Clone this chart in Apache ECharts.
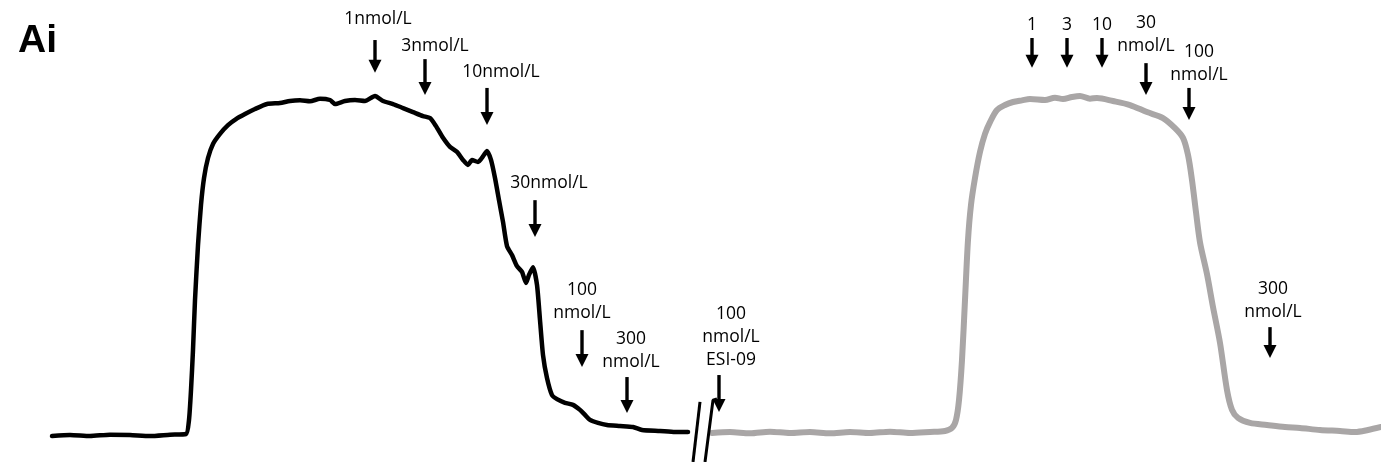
<!DOCTYPE html>
<html><head><meta charset="utf-8">
<script src="https://cdn.jsdelivr.net/npm/echarts@6.0.0/dist/echarts.min.js"></script>
<style>html,body{margin:0;padding:0;background:#fff}#c{width:1381px;height:462px}</style>
</head><body><div id="c"></div>
<script>
// Trace 1 (agonist alone, black): time and response (% of plateau)
const controlTime = [52,70,90,110,130,150,170,186,189,191,193,195,198,201,204,208,213,220,228,236,245,255,267,280,290,300,310,320,330,335,345,355,365,375,383,393,403,413,423,430,436,443,450,457,463,468,472,478,484,487,491,495,499,503,507,512,517,522,526,529,533,537,540,543,547,552,557,565,573,580,585,590,598,607,620,633,642,660,675,688];
const controlResp = [-0.3,0,-0.3,0.1,0,-0.3,0.1,0.3,4.5,13.4,25.4,40.3,56.7,68.7,76.7,82.7,86.9,89.9,92.5,94.3,95.8,97.3,98.8,99.1,99.7,99.9,99.6,100.4,100,98.8,99.7,100,99.7,101.2,99.7,98.8,97.6,96.4,95.2,94.6,92.2,88.7,86.0,84.5,82.1,80.6,82.1,81.5,83.6,84.8,82.1,76.7,70.1,63.6,56.4,53.7,50.4,48.7,45.4,47.8,50.1,44.8,34.3,23.9,17.0,11.9,10.7,9.6,9.0,7.5,6.0,4.5,3.6,3.0,2.7,2.4,1.5,1.2,0.9,0.9];
// Trace 2 (after 100 nmol/L ESI-09, grey)
const esiTime = [712,730,750,770,790,810,830,850,870,890,910,930,945,952,956,959,962,965,968,971,975,980,985,990,997,1005,1013,1022,1030,1045,1055,1063,1072,1080,1090,1097,1113,1130,1147,1163,1175,1183,1188,1192,1196,1200,1207,1213,1220,1227,1232,1238,1250,1267,1285,1300,1320,1340,1355,1368,1381];
const esiResp = [0.6,0.9,0.5,1.0,0.6,0.9,0.5,0.9,0.6,1.0,0.6,0.9,1.2,2.1,4.5,10.4,22.4,40.3,58.2,68.7,76.7,84.5,89.9,93.4,97.0,98.5,99.4,99.9,100.3,100.0,100.7,100.3,100.9,101.2,100.4,100.6,99.7,98.5,96.4,94.6,91.6,88.7,83.6,76.1,66.5,57.5,48.0,38.2,27.5,13.4,7.5,5.1,3.6,3.0,2.4,2.1,1.5,1.2,0.9,1.5,2.4];
// Dose annotations
const doseLabels = ['1nmol/L','3nmol/L','10nmol/L','30nmol/L','100\nnmol/L','300\nnmol/L','100\nnmol/L\nESI-09','1','3','10','30\nnmol/L','100\nnmol/L','300\nnmol/L'];
const doseTime   = [375,425,487,535,582,627,719,1032,1067,1102,1146,1189,1270];
const arrowFrom  = [117.9,112.2,103.6,70.1,31.3,17.3,17.9,118.5,118.5,118.5,111.0,103.6,32.2];
const arrowTo    = [108.1,101.5,92.5,59.1,20.3,6.6,6.9,109.6,109.6,109.6,101.5,94.0,23.0];
const labelTime  = [378,435,501,549,582,631,731,1032,1067,1102,1146,1199,1273];
const labelLevel = [124.3,116.0,108.4,75.2,43.3,28.7,36.1,122.4,122.4,122.4,123.0,114.3,43.6];
// Axis break marks
const breakA = [[693,-8.06],[700,9.9]];
const breakB = [[705,-8.06],[713,10.4],[717,10.8]];

const annData = doseTime.map((t,i)=>[t,arrowFrom[i],arrowTo[i],labelTime[i],labelLevel[i]]);

const chart = echarts.init(document.getElementById('c'), null, {renderer:'canvas'});
chart.setOption({
  animation:false,
  backgroundColor:'#fff',
  title:{text:'Ai', left:13, top:17, textStyle:{fontFamily:'Liberation Sans', fontWeight:'bold', fontSize:39, color:'#000'}},
  grid:{left:0,right:0,top:0,bottom:0},
  xAxis:{type:'value', min:0, max:1381, show:false},
  yAxis:{type:'value', min:-8.06, max:129.85, show:false},
  series:[
    {type:'line', data:controlTime.map((t,i)=>[t,controlResp[i]]), symbol:'none', smooth:0.2,
     lineStyle:{color:'#000', width:4.5, cap:'round', join:'round'}},
    {type:'line', data:esiTime.map((t,i)=>[t,esiResp[i]]), symbol:'none', smooth:0.3,
     lineStyle:{color:'#a9a6a6', width:6, cap:'round', join:'round'}},
    {type:'line', data:breakA, symbol:'none', lineStyle:{color:'#000', width:3}},
    {type:'line', data:breakB, symbol:'none', lineStyle:{color:'#000', width:3}},
    {type:'custom', data:annData, clip:false,
     renderItem:function(params, api){
       const i = params.dataIndex;
       const p0 = api.coord([api.value(0), api.value(1)]);
       const p1 = api.coord([api.value(0), api.value(2)]);
       const pl = api.coord([api.value(3), api.value(4)]);
       const head = 13, hw = 6.5;
       return {type:'group', children:[
         {type:'line', shape:{x1:p0[0],y1:p0[1],x2:p1[0],y2:p1[1]-head+1}, style:{stroke:'#000', lineWidth:3.4}},
         {type:'polygon', shape:{points:[[p1[0],p1[1]],[p1[0]-hw,p1[1]-head],[p1[0]+hw,p1[1]-head]]}, style:{fill:'#000'}},
         {type:'text', x:pl[0], y:pl[1]-11.5, style:{text:doseLabels[i], fontFamily:'Open Sans', fontSize:17.5, lineHeight:23, align:'center', verticalAlign:'top', fill:'#000'}}
       ]};
     }}
  ]
});
</script></body></html>
